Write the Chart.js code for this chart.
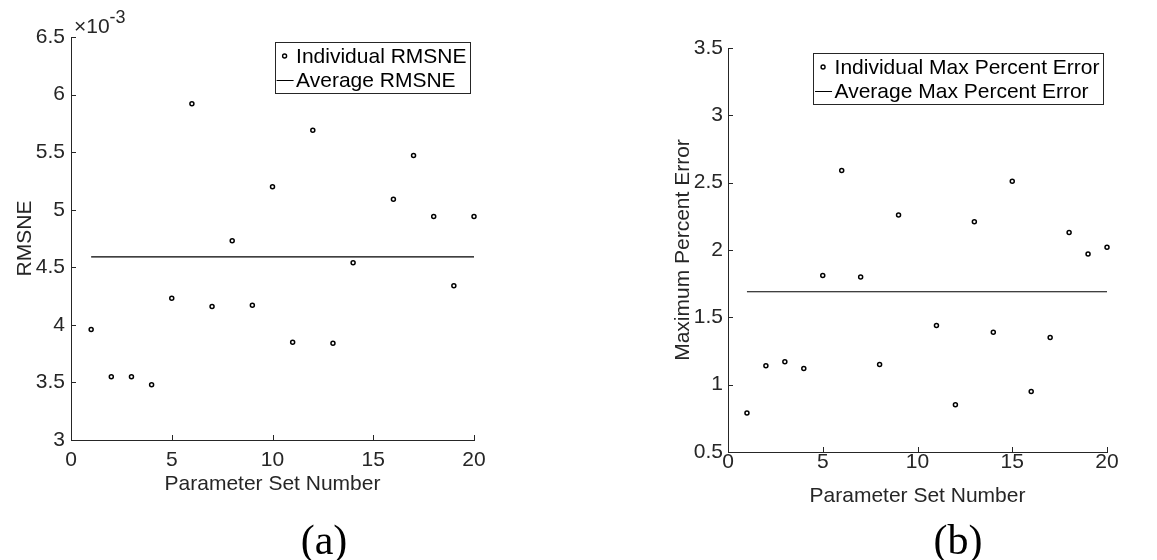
<!DOCTYPE html>
<html>
<head>
<meta charset="utf-8">
<script src="https://cdn.jsdelivr.net/npm/chart.js@4.4.1/dist/chart.umd.min.js"></script>
<style>
  html, body { margin: 0; padding: 0; background: #fff; }
  body { width: 1157px; height: 560px; position: relative; overflow: hidden; }
  .panel { position: absolute; top: 0; height: 560px; }
  #panelA { left: 0; width: 560px; }
  #panelB { left: 600px; width: 557px; }
  .cap {
    position: absolute; top: 516px; line-height: 48px;
    font-family: "Liberation Serif", "Times New Roman", serif;
    font-size: 42px; color: #000; transform: translateX(-50%);
  }
</style>
</head>
<body>
<div class="panel" id="panelA"><canvas id="chartA"></canvas></div>
<div class="panel" id="panelB"><canvas id="chartB"></canvas></div>
<div class="cap" style="left:324px">(a)</div>
<div class="cap" style="left:958px">(b)</div>
<script>
// -----------------------
// data
// -----------------------
const paramSets = [1, 2, 3, 4, 5, 6, 7, 8, 9, 10, 11, 12, 13, 14, 15, 16, 17, 18, 19, 20];

// RMSNE, in units of 10^-3 (set 15 sits behind the legend box)
const rmsneE3 = [3.96, 3.55, 3.55, 3.48, 4.23, 5.92, 4.16, 4.73, 4.17, 5.20,
                 3.85, 5.69, 3.84, 4.54, 6.15, 5.09, 5.47, 4.94, 4.34, 4.94];
const rmsneAvgE3 = 4.59;

// max percent error (set 10 sits behind the legend box)
const maxPctErr = [0.79, 1.14, 1.17, 1.12, 1.81, 2.59, 1.80, 1.15, 2.26, 3.15,
                   1.44, 0.85, 2.21, 1.39, 2.51, 0.95, 1.35, 2.13, 1.97, 2.02];
const maxPctErrAvg = 1.69;

const xTicks = [0, 5, 10, 15, 20];
const rmsneTicks = [3, 3.5, 4, 4.5, 5, 5.5, 6, 6.5];
const maxErrTicks = [0.5, 1, 1.5, 2, 2.5, 3, 3.5];

const FONT = '"Liberation Sans", Arial, Helvetica, sans-serif';
const AXIS = '#262626';

// inward tick marks, matlab style
const inTicks = {
    id: 'inTicks',
    afterDraw(chart) {
        const { ctx, chartArea, scales: { x, y } } = chart;
        ctx.save();
        ctx.strokeStyle = AXIS;
        ctx.lineWidth = 1;
        ctx.beginPath();
        x.ticks.forEach(t => {
            const px = Math.round(x.getPixelForValue(t.value)) + 0.5;
            ctx.moveTo(px, chartArea.bottom);
            ctx.lineTo(px, chartArea.bottom - 5);
        });
        y.ticks.forEach(t => {
            const py = Math.round(y.getPixelForValue(t.value)) + 0.5;
            ctx.moveTo(chartArea.left, py);
            ctx.lineTo(chartArea.left + 5, py);
        });
        ctx.stroke();
        ctx.restore();
    }
};

// boxed legend drawn over the plot (opaque, like matlab)
const boxLegend = {
    id: 'boxLegend',
    afterDraw(chart) {
        const { ctx, chartArea } = chart;
        const ds = chart.data.datasets;
        ctx.save();
        ctx.font = '21px ' + FONT;
        const w = Math.max(...ds.map(d => ctx.measureText(d.label).width)) + 25;
        const h = 51;
        const right = chartArea.right - 4;
        const top = chartArea.top + 5;
        const left = right - w;
        ctx.fillStyle = '#fff';
        ctx.fillRect(left, top, w, h);
        ctx.strokeStyle = AXIS;
        ctx.lineWidth = 1;
        ctx.strokeRect(Math.round(left) + 0.5, top + 0.5, Math.round(w), h);

        const row1 = top + 14, row2 = top + 38;
        // marker
        ctx.strokeStyle = '#000';
        ctx.lineWidth = 1.4;
        ctx.beginPath();
        ctx.arc(left + 10, row1, 2, 0, Math.PI * 2);
        ctx.stroke();
        // line sample
        ctx.lineWidth = 1;
        ctx.beginPath();
        ctx.moveTo(left + 2, row2 + 0.5);
        ctx.lineTo(left + 19, row2 + 0.5);
        ctx.stroke();

        ctx.fillStyle = '#000';
        ctx.textBaseline = 'middle';
        ctx.textAlign = 'left';
        ctx.fillText(ds[0].label, left + 21.5, row1 + 1);
        ctx.fillText(ds[1].label, left + 21.5, row2 + 1);
        ctx.restore();
    }
};

// "x10^-3" exponent label above the y axis
const expLabel = {
    id: 'expLabel',
    afterDraw(chart, args, opts) {
        if (!opts.text) return;
        const { ctx, chartArea } = chart;
        ctx.save();
        ctx.fillStyle = AXIS;
        ctx.textBaseline = 'alphabetic';
        ctx.textAlign = 'left';
        ctx.font = '21px ' + FONT;
        const x0 = chartArea.left + 3, y0 = chartArea.top - 4;
        ctx.fillText('\u00d710', x0, y0);
        const w = ctx.measureText('\u00d710').width;
        ctx.font = '18px ' + FONT;
        ctx.fillText(opts.text, x0 + w, y0 - 10);
        ctx.restore();
    }
};

function makeChart(id, cfg) {
    const ctx = document.getElementById(id);
    return new Chart(ctx.getContext('2d'), {
        data: {
            datasets: [
                {
                    type: 'scatter',
                    label: cfg.pointLabel,
                    data: paramSets.map((x, i) => ({ x: x, y: cfg.values[i] })),
                    pointStyle: 'circle',
                    pointRadius: 2,
                    borderColor: '#000',
                    backgroundColor: '#fff',
                    borderWidth: 1.5,
                    clip: false
                },
                {
                    type: 'line',
                    label: cfg.avgLabel,
                    data: [
                        { x: paramSets[0], y: cfg.avg },
                        { x: paramSets[paramSets.length - 1], y: cfg.avg }
                    ],
                    borderColor: '#000',
                    borderWidth: 1.2,
                    pointRadius: 0,
                    clip: false
                }
            ]
        },
        options: {
            responsive: true,
            maintainAspectRatio: false,
            animation: false,
            layout: { padding: cfg.padding },
            plugins: {
                legend: { display: false },
                tooltip: { enabled: false },
                expLabel: { text: cfg.exp || '' }
            },
            scales: {
                x: {
                    type: 'linear',
                    min: 0,
                    max: 20,
                    afterBuildTicks: s => { s.ticks = xTicks.map(v => ({ value: v })); },
                    afterFit: s => { s.height = cfg.xAxisH; },
                    grid: { display: false, drawTicks: false },
                    border: { display: true, color: AXIS, width: 1 },
                    ticks: {
                        color: AXIS,
                        padding: cfg.xTickPad,
                        font: { family: FONT, size: 21, lineHeight: 1 },
                        callback: v => String(v)
                    },
                    title: {
                        display: true,
                        text: 'Parameter Set Number',
                        color: AXIS,
                        font: { family: FONT, size: 21, lineHeight: 1.2 },
                        padding: { top: 0, bottom: cfg.xTitlePad }
                    }
                },
                y: {
                    type: 'linear',
                    min: cfg.yTicks[0],
                    max: cfg.yTicks[cfg.yTicks.length - 1],
                    afterBuildTicks: s => { s.ticks = cfg.yTicks.map(v => ({ value: v })); },
                    afterFit: s => { s.width = cfg.yAxisW; },
                    grid: { display: false, drawTicks: false },
                    border: { display: true, color: AXIS, width: 1 },
                    ticks: {
                        color: AXIS,
                        padding: cfg.yTickPad,
                        font: { family: FONT, size: 21, lineHeight: 1 },
                        callback: v => String(v)
                    },
                    title: {
                        display: true,
                        text: cfg.yTitle,
                        color: AXIS,
                        font: { family: FONT, size: 21, lineHeight: 1.2 },
                        padding: { top: cfg.yTitlePad, bottom: 0 }
                    }
                }
            }
        },
        plugins: [inTicks, boxLegend, expLabel]
    });
}

// -----------------------
// (a) RMSNE
// -----------------------
makeChart('chartA', {
    values: rmsneE3,
    avg: rmsneAvgE3,
    yTicks: rmsneTicks,
    pointLabel: 'Individual RMSNE',
    avgLabel: 'Average RMSNE',
    yTitle: 'RMSNE',
    exp: '-3',
    padding: { left: 0, right: 86, top: 37, bottom: 0 },
    yAxisW: 71,
    xAxisH: 120,
    xTickPad: 10,
    yTickPad: 6,
    xTitlePad: 63,
    yTitlePad: 13
});

// -----------------------
// (b) max percent error
// -----------------------
makeChart('chartB', {
    values: maxPctErr,
    avg: maxPctErrAvg,
    yTicks: maxErrTicks,
    pointLabel: 'Individual Max Percent Error',
    avgLabel: 'Average Max Percent Error',
    yTitle: 'Maximum Percent Error',
    padding: { left: 0, right: 50, top: 48, bottom: 0 },
    yAxisW: 128,
    xAxisH: 108,
    xTickPad: 0,
    yTickPad: 5,
    xTitlePad: 51,
    yTitlePad: 71
});
</script>
</body>
</html>
